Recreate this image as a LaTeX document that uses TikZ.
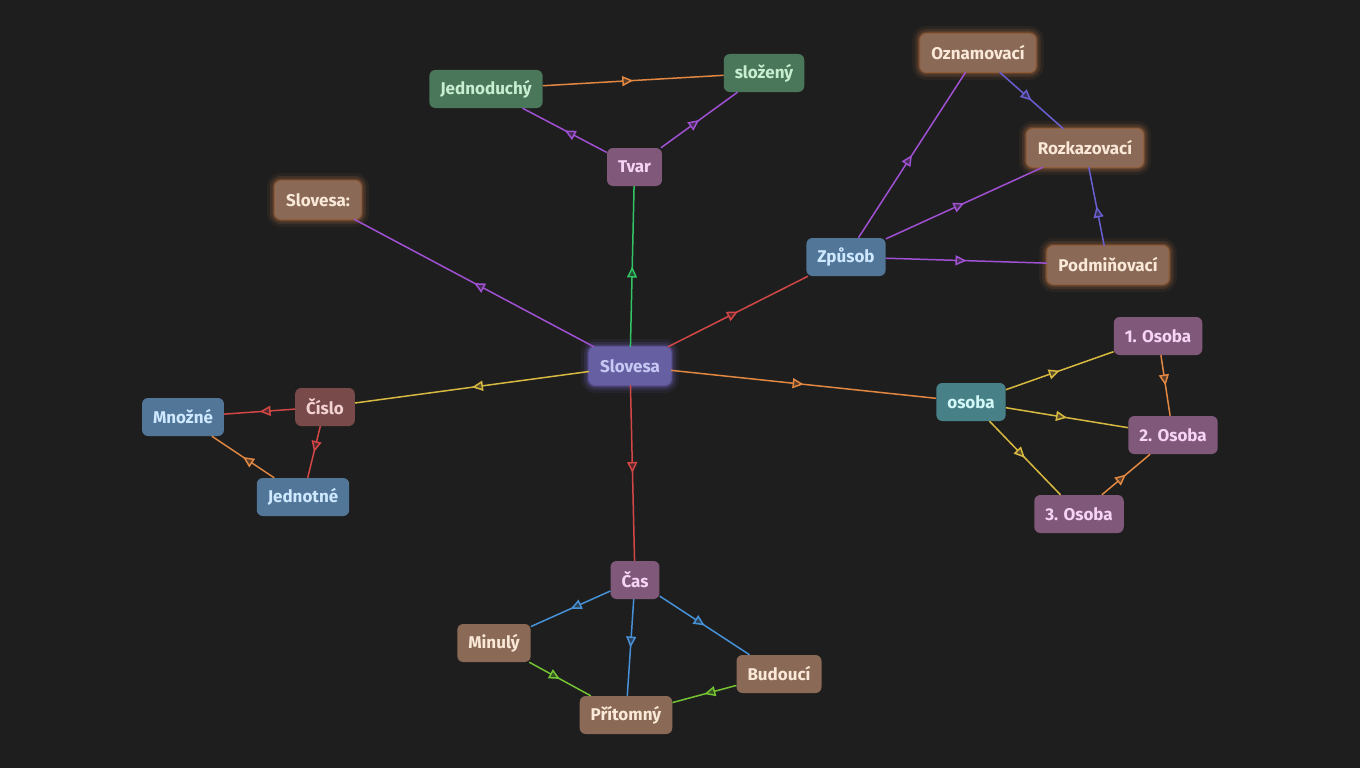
\documentclass[tikz,border=0pt]{standalone}
\usepackage{fontspec}
\setmainfont{Fira Sans}
\usetikzlibrary{arrows.meta,positioning,decorations.markings}
\definecolor{bgdark}{RGB}{30,30,30}
\definecolor{greenfill}{RGB}{74,118,90}
\definecolor{greentext}{RGB}{200,238,208}
\definecolor{mauvefill}{RGB}{128,88,122}
\definecolor{mauvetext}{RGB}{246,212,246}
\definecolor{brownfill}{RGB}{138,106,86}
\definecolor{browntext}{RGB}{250,232,216}
\definecolor{glowbrown}{RGB}{225,140,80}
\definecolor{violetfill}{RGB}{102,96,162}
\definecolor{violettext}{RGB}{200,200,245}
\definecolor{glowviolet}{RGB}{140,120,240}
\definecolor{bluefill}{RGB}{82,118,152}
\definecolor{bluetext}{RGB}{205,232,255}
\definecolor{redfill}{RGB}{120,74,74}
\definecolor{redtext}{RGB}{245,210,210}
\definecolor{tealfill}{RGB}{72,128,136}
\definecolor{tealtext}{RGB}{210,248,248}
\definecolor{epurple}{RGB}{160,80,210}
\definecolor{eorange}{RGB}{225,135,65}
\definecolor{egreen}{RGB}{50,195,100}
\definecolor{ered}{RGB}{210,70,70}
\definecolor{eyellow}{RGB}{215,185,65}
\definecolor{eviolet}{RGB}{105,95,210}
\definecolor{eblue}{RGB}{70,145,215}
\definecolor{elime}{RGB}{115,195,50}

\begin{document}
\begin{tikzpicture}[
    x=1pt, y=-1pt,
    box/.style={rounded corners=6pt, minimum height=38pt, inner xsep=11pt,
                on grid, font=\fontsize{17}{20}\selectfont\bfseries},
    glow/.style={preaction={draw=#1, line width=16pt, opacity=0.07},
                 preaction={draw=#1, line width=10pt, opacity=0.12},
                 preaction={draw=#1, line width=5pt, opacity=0.22},
                 preaction={draw=#1, line width=2pt, opacity=0.35}},
    greenbox/.style={box, fill=greenfill, text=greentext},
    mauvebox/.style={box, fill=mauvefill, text=mauvetext},
    brownbox/.style={box, fill=brownfill, text=browntext},
    glowbox/.style={brownbox, glow=glowbrown},
    bluebox/.style={box, fill=bluefill, text=bluetext},
    redbox/.style={box, fill=redfill, text=redtext},
    tealbox/.style={box, fill=tealfill, text=tealtext},
    rootbox/.style={box, fill=violetfill, text=violettext, glow=glowviolet},
    link/.style={line width=1.5pt, draw=#1, postaction={decorate},
                 decoration={markings, mark=at position 0.5 with
                 {\arrow{Triangle[length=11pt, width=10pt, fill=#1!30!bgdark]}}}}
]

\fill[bgdark] (0,0) rectangle (1360,768);
\useasboundingbox (0,0) rectangle (1360,768);

\node[rootbox] (slovesa) at (630,366) {Slovesa};

% tvar
\node[mauvebox, above right=199pt and 4.5pt of slovesa] (tvar) {Tvar};
\node[greenbox, above left=78pt and 148.5pt of tvar] (jednoduchy) {Jednoduchý};
\node[greenbox, above right=94pt and 129.5pt of tvar] (slozeny) {složený};

\node[glowbox, above left=166pt and 312pt of slovesa] (nadpis) {Slovesa:};

% zpusob
\node[bluebox, above right=109pt and 216pt of slovesa] (zpusob) {Způsob};
\node[glowbox, above right=204pt and 132pt of zpusob] (oznam) {Oznamovací};
\node[glowbox, above right=109pt and 239pt of zpusob] (rozkaz) {Rozkazovací};
\node[glowbox, below right=8pt and 262pt of zpusob] (podmin) {Podmiňovací};

% cislo
\node[redbox, below left=41pt and 305pt of slovesa] (cislo) {Číslo};
\node[bluebox, below left=10pt and 142pt of cislo] (mnozne) {Množné};
\node[bluebox, below left=90pt and 22pt of cislo] (jednotne) {Jednotné};

% osoba
\node[tealbox, below right=36pt and 341pt of slovesa] (osoba) {osoba};
\node[mauvebox, above right=66pt and 187pt of osoba] (osoba1) {1. Osoba};
\node[mauvebox, below right=33pt and 202pt of osoba] (osoba2) {2. Osoba};
\node[mauvebox, below right=112pt and 108pt of osoba] (osoba3) {3. Osoba};

% cas
\node[mauvebox, below right=214pt and 5pt of slovesa] (cas) {Čas};
\node[brownbox, below left=63pt and 141pt of cas] (minuly) {Minulý};
\node[brownbox, below left=135pt and 9pt of cas] (pritomny) {Přítomný};
\node[brownbox, below right=94pt and 144pt of cas] (budouci) {Budoucí};

\draw[link=egreen] (slovesa) -- (tvar);
\draw[link=epurple] (tvar) -- (jednoduchy);
\draw[link=epurple] (tvar) -- (slozeny);
\draw[link=eorange] (jednoduchy) -- (slozeny);
\draw[link=epurple] (slovesa) -- (nadpis);
\draw[link=ered] (slovesa) -- (zpusob);
\draw[link=epurple] (zpusob) -- (oznam);
\draw[link=epurple] (zpusob) -- (rozkaz);
\draw[link=epurple] (zpusob) -- (podmin);
\draw[link=eviolet] (oznam) -- (rozkaz);
\draw[link=eviolet] (podmin) -- (rozkaz);
\draw[link=eyellow] (slovesa) -- (cislo);
\draw[link=ered] (cislo) -- (mnozne);
\draw[link=ered] (cislo) -- (jednotne);
\draw[link=eorange] (jednotne) -- (mnozne);
\draw[link=eorange] (slovesa) -- (osoba);
\draw[link=eyellow] (osoba) -- (osoba1);
\draw[link=eyellow] (osoba) -- (osoba2);
\draw[link=eyellow] (osoba) -- (osoba3);
\draw[link=eorange] (osoba1) -- (osoba2);
\draw[link=eorange] (osoba3) -- (osoba2);
\draw[link=ered] (slovesa) -- (cas);
\draw[link=eblue] (cas) -- (minuly);
\draw[link=eblue] (cas) -- (pritomny);
\draw[link=eblue] (cas) -- (budouci);
\draw[link=elime] (minuly) -- (pritomny);
\draw[link=elime] (budouci) -- (pritomny);

\end{tikzpicture}
\end{document}
